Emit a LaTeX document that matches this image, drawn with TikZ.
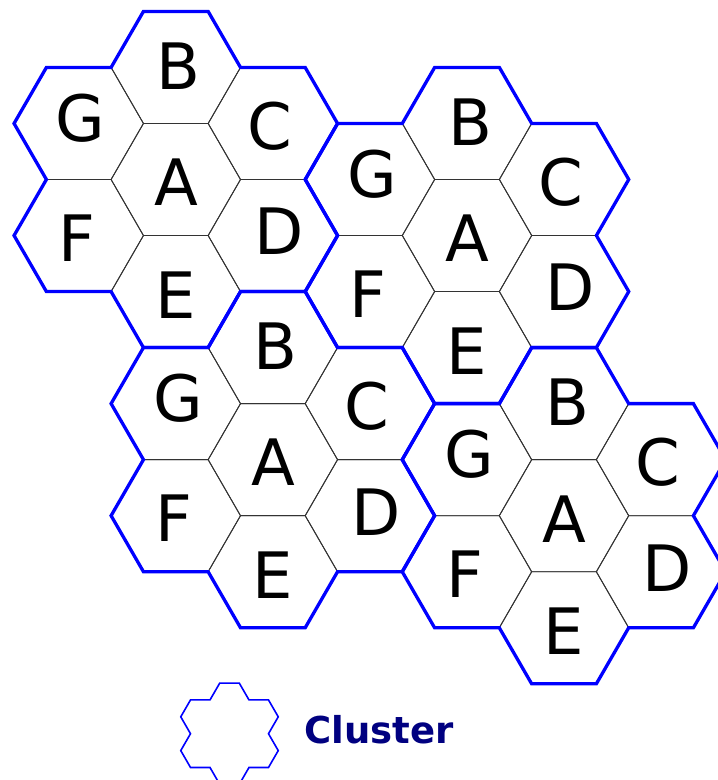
\documentclass[tikz,border=0pt]{standalone}
\usepackage{fontspec}
\setmainfont{DejaVu Sans}
\usetikzlibrary{calc}
\definecolor{navy}{RGB}{0,0,128}
\newcommand\defcluster[3]{%
  \coordinate (#1A) at (#2,#3);
  \coordinate (#1B) at ($(#1A)+(0,-112.06)$);
  \coordinate (#1C) at ($(#1A)+(97.05,-56.03)$);
  \coordinate (#1D) at ($(#1A)+(97.05,56.03)$);
  \coordinate (#1E) at ($(#1A)+(0,112.06)$);
  \coordinate (#1F) at ($(#1A)+(-97.05,56.03)$);
  \coordinate (#1G) at ($(#1A)+(-97.05,-56.03)$);
}
\newcommand\cells[1]{%
  \foreach \h in {A,B,C,D,E,F,G}{
    \draw[cell] (#1\h) +(0:64.7) -- +(60:64.7) -- +(120:64.7) -- +(180:64.7) -- +(240:64.7) -- +(300:64.7) -- cycle;
  }
}
% #1 center, #2 radius, #3 sqrt3*radius, #4 style
\newcommand\clusteroutline[4]{%
  \draw[#4] ($(#1)+(30:#3)+(0:#2)$)
    \foreach \t in {30,90,150,210,270}{
      -- ($(#1)+(\t:#3)+(\t+30:#2)$)
      -- ($(#1)+(\t:#3)+(\t+90:#2)$)
      -- ($(#1)+(\t+60:#3)+(\t+30:#2)$)
    }
    -- ($(#1)+(330:#3)+(0:#2)$)
    -- ($(#1)+(330:#3)+(60:#2)$) -- cycle;
}
\newcommand\letters[1]{%
  \node[lbl] (#1lA) at ($(#1A)+(0.5,3)$) {A};
  \node[lbl] (#1lB) at ($(#1B)+(3,-1.1)$) {B};
  \node[lbl] (#1lC) at ($(#1C)+(-3,2.5)$) {C};
  \node[lbl] (#1lD) at ($(#1D)+(6,-4)$) {D};
  \node[lbl] (#1lE) at ($(#1E)+(0,3.4)$) {E};
  \node[lbl] (#1lF) at ($(#1F)+(-2,2.5)$) {F};
  \node[lbl] (#1lG) at ($(#1G)+(2,-5)$) {G};
}
\begin{document}
\begin{tikzpicture}[x=1pt,y=-1pt,
  cell/.style={draw=black!80, line width=0.9pt},
  outline/.style={draw=blue, line width=3.3pt},
  smalloutline/.style={draw=blue, line width=1.6pt},
  lbl/.style={font=\fontsize{64}{64}\selectfont, inner sep=0pt, anchor=center}]
\useasboundingbox (0,0) rectangle (718,780);
\clip (0,0) rectangle (718,780);
\defcluster{p}{175.8}{179.5}
\defcluster{q}{467.0}{235.5}
\defcluster{r}{272.85}{459.65}
\defcluster{s}{564.0}{515.7}
\cells{p}\cells{q}\cells{r}\cells{s}
\clusteroutline{pA}{64.7}{112.06}{outline}
\clusteroutline{qA}{64.7}{112.06}{outline}
\clusteroutline{rA}{64.7}{112.06}{outline}
\clusteroutline{sA}{64.7}{112.06}{outline}
\letters{p}\letters{q}\letters{r}\letters{s}
\coordinate (leg) at (229.5,733.7);
\clusteroutline{leg}{19.5}{33.77}{smalloutline}
\node[font=\fontsize{37}{37}\selectfont\bfseries, text=navy, anchor=base west, inner sep=0pt] (legtxt) at (304,743.5) {Cluster};
\end{tikzpicture}
\end{document}
